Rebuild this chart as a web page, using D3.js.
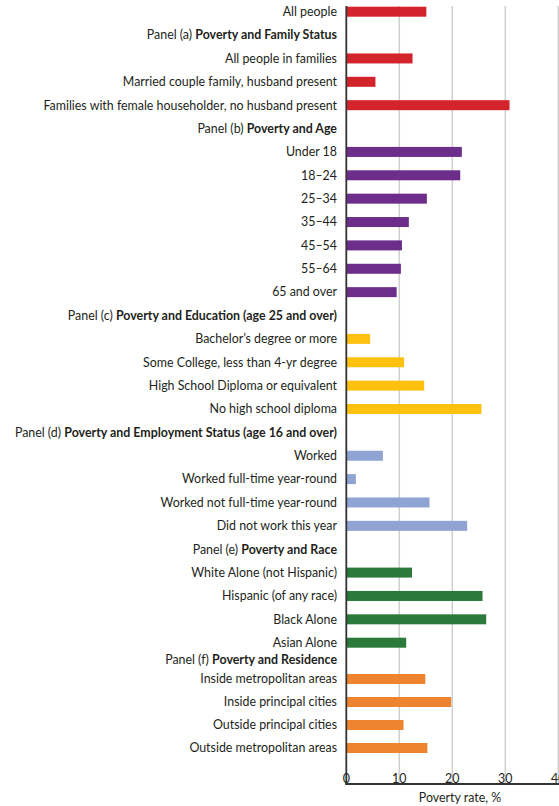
<!DOCTYPE html>
<html>
<head>
<meta charset="utf-8">
<script src="https://cdn.jsdelivr.net/npm/d3@7"></script>
<style>
  html, body { margin: 0; padding: 0; background: #fff; }
  text { font-family: Lato, "Open Sans", sans-serif; fill: #231f20; }
</style>
</head>
<body>
<div id="chart"></div>
<script>
// Data
const allPeopleLabel = "All people";
const allPeopleValue = 15.1;

const panelLetters = ["a", "b", "c", "d", "e", "f"];
const panelTitles = [
  "Poverty and Family Status",
  "Poverty and Age",
  "Poverty and Education (age 25 and over)",
  "Poverty and Employment Status (age 16 and over)",
  "Poverty and Race",
  "Poverty and Residence"
];
const panelItems = [
  ["All people in families", "Married couple family, husband present", "Families with female householder, no husband present"],
  ["Under 18", "18–24", "25–34", "35–44", "45–54", "55–64", "65 and over"],
  ["Bachelor’s degree or more", "Some College, less than 4-yr degree", "High School Diploma or equivalent", "No high school diploma"],
  ["Worked", "Worked full-time year-round", "Worked not full-time year-round", "Did not work this year"],
  ["White Alone (not Hispanic)", "Hispanic (of any race)", "Black Alone", "Asian Alone"],
  ["Inside metropolitan areas", "Inside principal cities", "Outside principal cities", "Outside metropolitan areas"]
];
const panelValues = [
  [12.5, 5.5, 30.8],
  [21.8, 21.5, 15.2, 11.8, 10.5, 10.3, 9.5],
  [4.5, 10.9, 14.7, 25.5],
  [6.9, 1.8, 15.7, 22.8],
  [12.4, 25.7, 26.4, 11.3],
  [14.9, 19.8, 10.8, 15.3]
];
const xTicks = [0, 10, 20, 30, 40];
const xTitle = "Poverty rate, %";

// Flatten into rows
const rows = [{label: allPeopleLabel, value: allPeopleValue, group: "all"}];
panelLetters.forEach((p, i) => {
  rows.push({label: "Panel (" + p + ") ", bold: panelTitles[i], value: null, group: p});
  panelItems[i].forEach((lab, j) => rows.push({label: lab, value: panelValues[i][j], group: p}));
});
rows.forEach((d, i) => d.idx = i);

const width = 559, height = 806;
const axisY = 784, plotTop = 6;

const svg = d3.select("#chart").append("svg")
    .attr("width", width)
    .attr("height", height);

const x = d3.scaleLinear().domain([0, 40]).range([346.3, 558.3]);

// rows are not evenly spaced in the original, so use a piecewise row scale
const y = d3.scaleLinear()
    .domain([0, 27, 28, 29, 32])
    .range([11.7, 642.7, 660, 679, 748]);

const color = d3.scaleOrdinal()
    .domain(["all", "a", "b", "c", "d", "e", "f"])
    .range(["#d3242c", "#d3242c", "#6c2d8b", "#fec110", "#8fa4d2", "#2b7a3b", "#ee8330"]);

// gridlines
svg.append("g")
  .selectAll("line")
  .data(xTicks.slice(1))
  .join("line")
    .attr("x1", d => x(d))
    .attr("x2", d => x(d))
    .attr("y1", plotTop)
    .attr("y2", axisY)
    .attr("stroke", "#cfcfcf")
    .attr("stroke-width", 1.5);

// bars
const barH = 10;
svg.append("g")
  .selectAll("rect")
  .data(rows.filter(d => d.value != null))
  .join("rect")
    .attr("x", x(0))
    .attr("y", d => y(d.idx) - barH / 2)
    .attr("width", d => x(d.value) - x(0))
    .attr("height", barH)
    .attr("fill", d => color(d.group));

// axes lines
svg.append("line")
    .attr("x1", x(0)).attr("x2", x(0))
    .attr("y1", plotTop).attr("y2", axisY + 1)
    .attr("stroke", "#333").attr("stroke-width", 1.8);
svg.append("line")
    .attr("x1", x(0) - 0.9).attr("x2", width)
    .attr("y1", axisY).attr("y2", axisY)
    .attr("stroke", "#333").attr("stroke-width", 1.8);

// row labels
const labels = svg.append("g")
  .selectAll("text")
  .data(rows)
  .join("text")
    .attr("x", 337)
    .attr("y", d => y(d.idx))
    .attr("dy", "0.35em")
    .attr("text-anchor", "end")
    .style("font-size", "12.4px");
labels.append("tspan").text(d => d.label);
labels.filter(d => d.bold).append("tspan")
    .style("font-weight", "bold")
    .text(d => d.bold);

// tick labels (sit just above the axis line, last one runs off the edge as in the original)
svg.append("g")
  .selectAll("text")
  .data(xTicks)
  .join("text")
    .attr("x", d => x(d))
    .attr("y", axisY - 1.5)
    .attr("text-anchor", "middle")
    .style("font-size", "12.4px")
    .text(d => d);

svg.append("text")
    .attr("x", 460)
    .attr("y", 802)
    .attr("text-anchor", "middle")
    .style("font-size", "12.4px")
    .text(xTitle);
</script>
</body>
</html>
